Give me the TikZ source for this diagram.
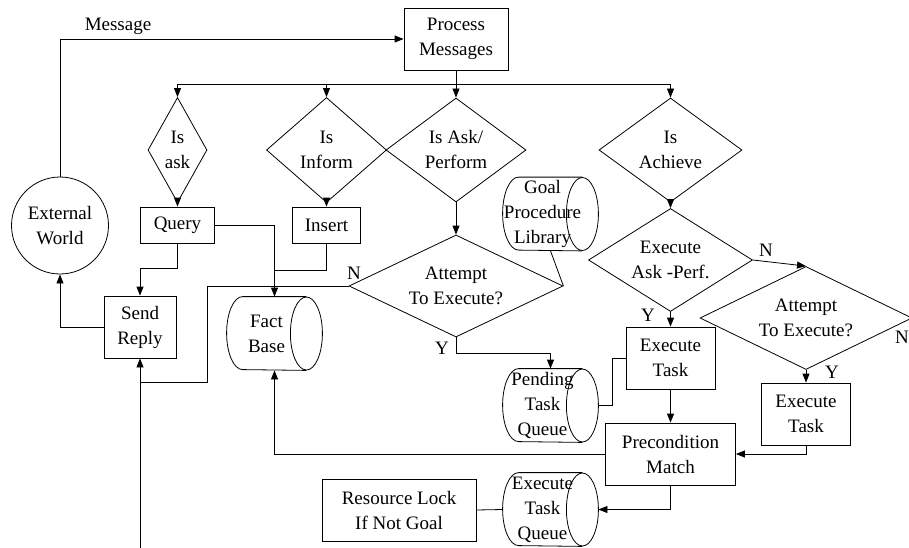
\documentclass[tikz,border=0pt]{standalone}
\usepackage{fontspec}
\setmainfont{Liberation Serif}
\usetikzlibrary{shapes.geometric,arrows.meta}

\tikzset{
  boxnode/.style={draw,rectangle,inner sep=0pt,align=center},
  decision/.style={draw,diamond,inner sep=0pt,align=center},
  store/.style={rectangle,inner sep=0pt,minimum width=95pt,minimum height=73pt},
  storetext/.style={inner sep=0pt,align=center},
  lbl/.style={inner sep=0pt}
}

\begin{document}
\begin{tikzpicture}[x=1pt,y=-1pt,line width=0.8pt,>={Triangle[length=9pt,width=7pt]},
    font=\fontsize{19}{25}\selectfont]
  \useasboundingbox (0,0) rectangle (909,548);
  % boxes
  \node[boxnode,minimum width=104pt,minimum height=62pt] (pm) at (456,39) {Process\\Messages};
  \node[boxnode,minimum width=74pt,minimum height=36pt] (query) at (177.5,225) {Query};
  \node[boxnode,minimum width=68pt,minimum height=36pt] (ins) at (326.5,225) {Insert};
  \node[boxnode,minimum width=72pt,minimum height=62pt] (send) at (140,327) {Send\\Reply};
  \node[boxnode,minimum width=89pt,minimum height=62pt] (et1) at (670.5,358) {Execute\\Task};
  \node[boxnode,minimum width=89pt,minimum height=62pt] (et2) at (806,414) {Execute\\Task};
  \node[boxnode,minimum width=130pt,minimum height=62pt] (prec) at (670.5,454) {Precondition\\Match};
  \node[boxnode,minimum width=154pt,minimum height=62pt] (rl) at (399,510) {Resource Lock\\If Not Goal};
  \node[draw,circle,minimum size=97pt,inner sep=0pt,align=center] (ext) at (60,225.5) {External\\World};
  % decisions
  \node[decision,minimum width=59pt,minimum height=105pt,aspect=0.56] (isask) at (177.5,150) {Is\\ask};
  \node[decision,minimum width=120pt,minimum height=105pt,aspect=1.14] (isinf) at (326.5,150) {Is\\Inform};
  \node[decision,minimum width=140pt,minimum height=104pt,aspect=1.35] (isap) at (456,150) {Is Ask/\\Perform};
  \node[decision,minimum width=143pt,minimum height=104pt,aspect=1.37] (isach) at (670.5,150) {Is\\Achieve};
  \node[decision,minimum width=164pt,minimum height=103pt,aspect=1.6] (eap) at (670.5,260) {Execute\\Ask -Perf.};
  \node[decision,minimum width=214pt,minimum height=102pt,aspect=2.1] (att1) at (456,286) {Attempt\\To Execute?};
  \node[decision,minimum width=212pt,minimum height=103pt,aspect=2.06] (att2) at (806,318) {Attempt\\To Execute?};
  % stores: outline drawn below, text sits over the body
  \node[store] (fact) at (274.5,333.5) {};
  \node[store] (lib) at (550.5,214) {};
  \node[store] (pend) at (550.5,405.5) {};
  \node[store] (etq) at (550.5,509.5) {};
  \foreach \s in {fact,lib,pend,etq} {
    \draw ([xshift=-16pt]\s.east) ellipse [x radius=16pt,y radius=36.5pt];
    \draw ([xshift=-16pt]\s.north east) -- ([xshift=16pt]\s.north west)
      arc[start angle=90,end angle=270,x radius=16pt,y radius=36.5pt]
      -- ([xshift=-16pt]\s.south east);
  }
  \node[storetext] (factt) at (266.5,333.5) {Fact\\Base};
  \node[storetext] (libt) at (542.5,214) {Goal\\Procedure\\Library};
  \node[storetext] (pendt) at (542.5,405.5) {Pending\\Task\\Queue};
  \node[storetext] (etqt) at (542.5,509.5) {Execute\\Task\\Queue};
  % labels
  \node[lbl] (msg) at (118,26) {Message};
  \node[lbl] (n1) at (354,273) {N};
  \node[lbl] (y1) at (442,348) {Y};
  \node[lbl] (y2) at (648,315) {Y};
  \node[lbl] (n2) at (766,250) {N};
  \node[lbl] (y3) at (832,372) {Y};
  \node[lbl] (n3) at (902,337) {N};

  \coordinate (bus) at (456,84);
  \coordinate (inbot) at (140,550);

  \draw[->] (ext) |- (pm);
  \draw (pm) -- (bus);
  \foreach \d in {isask,isinf,isap,isach}
    \draw[->] (bus) -| (\d);
  \foreach \a/\b in {isask/query,isinf/ins,isap/att1,isach/eap,eap/et1,att2/et2,et1/prec}
    \draw[->] (\a) -- (\b);
  \draw[->] (query) -| (fact.north);
  \draw (ins) |- (274.5,270);
  \draw[->] (query.south) |- (140,268) -- (send);
  \draw[->] (send) -| (ext);
  \draw[->] (inbot) -- (send);
  \draw (att1.west) -- (207,286) |- (140,382);
  \draw[->] (att1.south) -- ++(0,16) -| (pend.north);
  \draw (lib.south) -- (att1.east);
  \draw (pend.east) -- (612,405.5) |- (et1);
  \draw[->] (eap.east) -- (att2.north);
  \draw[->] (et2) |- (prec);
  \draw[->] (prec) -| (fact.south);
  \draw[->] (prec.south) |- (etq.east);
  \draw (etq.west) -- (rl.east);
\end{tikzpicture}
\end{document}
